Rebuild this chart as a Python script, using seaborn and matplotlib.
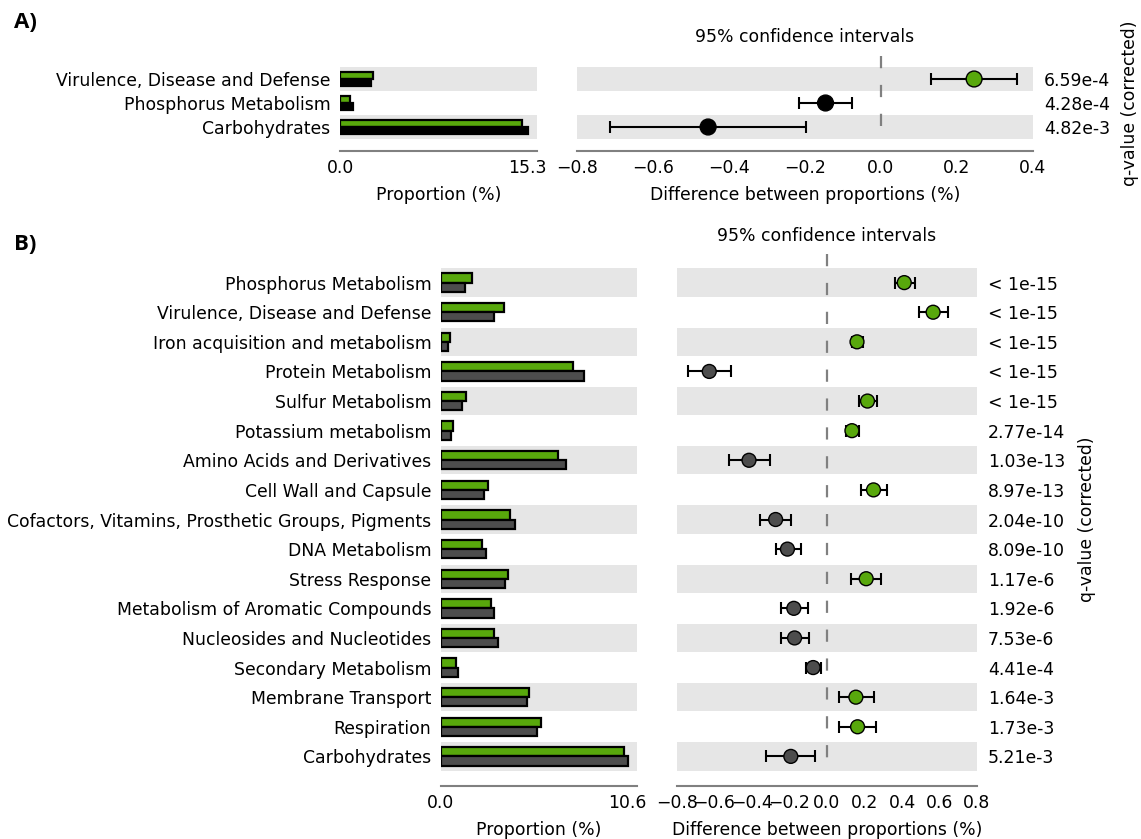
import numpy as np
import pandas as pd
import matplotlib
matplotlib.use("Agg")
import matplotlib.pyplot as plt
import seaborn as sns

# ---- Panel A: three subsystems ----
a_features = ["Virulence, Disease and Defense", "Phosphorus Metabolism", "Carbohydrates"]
a_prop_group1 = [2.69, 0.81, 14.84]
a_prop_group2 = [2.49, 1.07, 15.30]
a_diff = [0.245, -0.146, -0.455]
a_ci_low = [0.131, -0.217, -0.712]
a_ci_high = [0.359, -0.076, -0.197]
a_qvalues = ["6.59e-4", "4.28e-4", "4.82e-3"]
a_diff_ticks = [-0.8, -0.6, -0.4, -0.2, 0.0, 0.2, 0.4]

# ---- Panel B: seventeen subsystems ----
b_features = [
    "Phosphorus Metabolism",
    "Virulence, Disease and Defense",
    "Iron acquisition and metabolism",
    "Protein Metabolism",
    "Sulfur Metabolism",
    "Potassium metabolism",
    "Amino Acids and Derivatives",
    "Cell Wall and Capsule",
    "Cofactors, Vitamins, Prosthetic Groups, Pigments",
    "DNA Metabolism",
    "Stress Response",
    "Metabolism of Aromatic Compounds",
    "Nucleosides and Nucleotides",
    "Secondary Metabolism",
    "Membrane Transport",
    "Respiration",
    "Carbohydrates",
]
b_prop_group1 = [1.78, 3.58, 0.51, 7.51, 1.42, 0.66, 6.66, 2.69, 3.92,
                 2.31, 3.82, 2.82, 3.03, 0.83, 5.02, 5.66, 10.41]
b_prop_group2 = [1.36, 3.01, 0.38, 8.14, 1.19, 0.57, 7.10, 2.46, 4.18,
                 2.57, 3.63, 3.01, 3.24, 0.95, 4.88, 5.47, 10.60]
b_diff = [0.412, 0.566, 0.160, -0.628, 0.216, 0.133, -0.416, 0.248, -0.274,
          -0.211, 0.209, -0.177, -0.173, -0.074, 0.154, 0.163, -0.193]
b_ci_low = [0.360, 0.490, 0.133, -0.743, 0.168, 0.100, -0.522, 0.182, -0.358,
            -0.273, 0.127, -0.248, -0.248, -0.112, 0.065, 0.065, -0.326]
b_ci_high = [0.470, 0.646, 0.190, -0.513, 0.269, 0.168, -0.304, 0.319, -0.191,
             -0.140, 0.290, -0.104, -0.097, -0.034, 0.253, 0.263, -0.062]
b_qvalues = ["< 1e-15", "< 1e-15", "< 1e-15", "< 1e-15", "< 1e-15", "2.77e-14",
             "1.03e-13", "8.97e-13", "2.04e-10", "8.09e-10", "1.17e-6", "1.92e-6",
             "7.53e-6", "4.41e-4", "1.64e-3", "1.73e-3", "5.21e-3"]
b_diff_ticks = [-0.8, -0.6, -0.4, -0.2, 0.0, 0.2, 0.4, 0.6, 0.8]

GREEN = "#58a80c"
BAND = "#e6e6e6"
AXIS_GREY = "#808080"
FS = 12.4

sns.set_theme(style="white")
plt.rcParams["font.family"] = ["DejaVu Sans"]
plt.rcParams["text.color"] = "black"
plt.rcParams["axes.labelcolor"] = "black"
plt.rcParams["xtick.color"] = "black"
plt.rcParams["ytick.color"] = "black"


def style_bottom_axis(ax):
    for side in ("top", "left", "right"):
        ax.spines[side].set_visible(False)
    ax.spines["bottom"].set_color(AXIS_GREY)
    ax.spines["bottom"].set_linewidth(1.5)
    ax.tick_params(axis="x", direction="in", length=6, width=1.2,
                   color=AXIS_GREY, labelsize=FS, labelcolor="black", pad=6)
    ax.tick_params(axis="y", length=0, labelsize=FS, labelcolor="black")


def draw_panel(fig, rect_left, rect_right, features, g1, g2, diff, lo, hi,
               qvals, color2, diff_ticks, marker_size, cap, qlabel_pad):
    n = len(features)
    rows = np.arange(n)
    prop_max = max(max(g1), max(g2))
    xmax = prop_max * 1.05

    axl = fig.add_axes(rect_left)
    axr = fig.add_axes(rect_right)

    # alternating background bands
    for ax in (axl, axr):
        for i in range(0, n, 2):
            ax.axhspan(i - 0.48, i + 0.48, color=BAND, lw=0, zorder=0)

    # mean proportions of both groups
    bars = pd.DataFrame({
        "feature": features * 2,
        "value": list(g1) + list(g2),
        "group": ["g1"] * n + ["g2"] * n,
    })
    sns.barplot(data=bars, y="feature", x="value", hue="group", orient="h",
                order=features, hue_order=["g1", "g2"], width=0.62,
                palette=[GREEN, color2], saturation=1, edgecolor="black",
                linewidth=1.6, legend=False, ax=axl, zorder=2)
    axl.set_xlim(0, xmax)
    axl.set_ylim(n, -1)
    axl.set_xticks([0, prop_max])
    axl.set_xticklabels(["0.0", f"{prop_max:.1f}"])
    axl.set_xlabel("Proportion (%)", fontsize=FS, labelpad=6)
    axl.set_ylabel("")
    style_bottom_axis(axl)
    axl.tick_params(axis="y", pad=7)

    # differences with 95% confidence intervals
    diff = np.asarray(diff)
    xerr = [diff - np.asarray(lo), np.asarray(hi) - diff]
    axr.vlines(0, -0.95, n - 0.5, colors="#808080", linewidth=1.6,
               linestyles=(0, (5.5, 7.5)), zorder=1)
    axr.errorbar(diff, rows, xerr=xerr, fmt="none", ecolor="black",
                 elinewidth=1.5, capsize=cap, capthick=1.5, zorder=3)
    pts = pd.DataFrame({"diff": diff, "row": rows,
                        "side": np.where(diff > 0, "g1", "g2")})
    sns.scatterplot(data=pts, x="diff", y="row", hue="side",
                    palette={"g1": GREEN, "g2": color2}, s=marker_size,
                    edgecolor="black", linewidth=1.0, legend=False, ax=axr,
                    zorder=4)
    axr.set_xlim(diff_ticks[0], diff_ticks[-1])
    axr.set_ylim(n, -1)
    axr.set_xticks(diff_ticks)
    axr.set_xticklabels([f"{t:.1f}".replace("-", "\u2212") for t in diff_ticks])
    axr.set_xlabel("Difference between proportions (%)", fontsize=FS, labelpad=6)
    axr.yaxis.tick_right()
    axr.set_yticks(rows)
    axr.set_yticklabels(qvals)
    axr.yaxis.set_label_position("right")
    axr.set_ylabel("q-value (corrected)", fontsize=FS, rotation=90,
                   labelpad=qlabel_pad)
    axr.set_title("95% confidence intervals", fontsize=FS, pad=9)
    style_bottom_axis(axr)
    axr.tick_params(axis="y", pad=8)
    return axl, axr


fig = plt.figure(figsize=(11.41, 8.39), dpi=100)

W, H = 1141.0, 839.0


def rect(x0, x1, ytop, ybot):
    return [x0 / W, 1 - ybot / H, (x1 - x0) / W, (ybot - ytop) / H]


draw_panel(fig, rect(340, 537, 55, 151), rect(577, 1033, 55, 151),
           a_features, a_prop_group1, a_prop_group2, a_diff, a_ci_low,
           a_ci_high, a_qvalues, "#000000", a_diff_ticks, 130, 4, 8)

draw_panel(fig, rect(441, 637, 253, 786), rect(677, 977, 253, 786),
           b_features, b_prop_group1, b_prop_group2, b_diff, b_ci_low,
           b_ci_high, b_qvalues, "#4d4d4d", b_diff_ticks, 100, 4, 9)

fig.text(14 / W, 1 - 22 / H, "A)", fontsize=16, fontweight="bold",
         family=["Open Sans", "DejaVu Sans"], va="center", ha="left")
fig.text(14 / W, 1 - 245 / H, "B)", fontsize=16, fontweight="bold",
         family=["Open Sans", "DejaVu Sans"], va="center", ha="left")

fig.savefig("out.png", dpi=100)
